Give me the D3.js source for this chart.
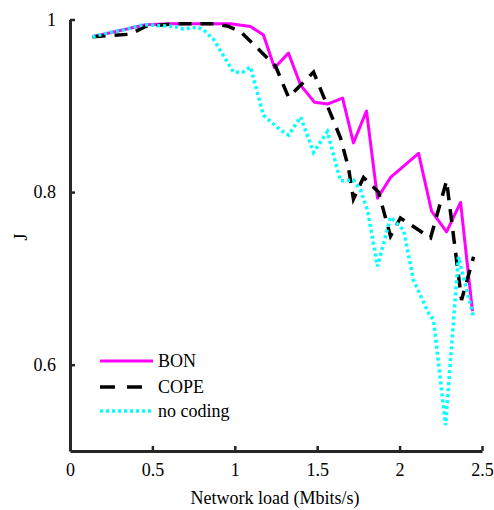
<!DOCTYPE html>
<html><head><meta charset="utf-8">
<script src="https://cdn.jsdelivr.net/npm/d3@7"></script>
</head><body style="margin:0;background:#fff">
<svg id="c" width="494" height="510"></svg>
<script>
// Data (x = network load in Mbits/s, y = J)
const bonX = [0.137,0.458,0.610,0.974,1.095,1.174,1.241,1.326,1.399,1.484,1.562,1.654,1.720,1.799,1.866,1.945,2.115,2.194,2.285,2.370,2.442];
const bonY = [0.980,0.994,0.995,0.995,0.992,0.982,0.944,0.961,0.924,0.904,0.902,0.909,0.857,0.894,0.793,0.817,0.845,0.778,0.754,0.788,0.662];
const copeX = [0.137,0.367,0.458,0.640,0.883,0.962,1.035,1.168,1.247,1.326,1.478,1.641,1.690,1.720,1.781,1.872,1.945,2.005,2.188,2.285,2.376,2.449];
const copeY = [0.980,0.983,0.992,0.995,0.995,0.992,0.986,0.961,0.946,0.910,0.939,0.863,0.828,0.792,0.817,0.800,0.749,0.770,0.747,0.813,0.675,0.725];
const ncX = [0.137,0.264,0.325,0.446,0.628,0.689,0.774,0.810,0.871,0.992,1.047,1.095,1.174,1.277,1.326,1.399,1.478,1.562,1.641,1.720,1.763,1.805,1.866,1.945,2.024,2.084,2.175,2.206,2.279,2.357,2.400,2.449];
const ncY = [0.980,0.986,0.988,0.994,0.992,0.989,0.991,0.988,0.977,0.939,0.939,0.945,0.889,0.872,0.866,0.887,0.846,0.870,0.813,0.814,0.802,0.779,0.714,0.771,0.756,0.698,0.660,0.652,0.530,0.725,0.692,0.655];
const seriesNames = ["BON","COPE","no coding"];
const xTicks = [0,0.5,1,1.5,2,2.5];
const xTickLabels = ["0","0.5","1","1.5","2","2.5"];
const yTicks = [0.6,0.8,1];
const yTickLabels = ["0.6","0.8","1"];

const FONT = "'Liberation Serif', serif";
const svg = d3.select("#c");
const x = d3.scaleLinear().domain([0,2.5]).range([70,482]);
const y = d3.scaleLinear().domain([0.5,1]).range([451,19.5]);
const axisColor = "#262626";

const line = d3.line().x(d=>x(d[0])).y(d=>y(d[1]));
const zip = (a,b)=>a.map((v,i)=>[v,b[i]]);

const styles = [
  {stroke:"#ff00ff", width:3, dash:null},
  {stroke:"#000000", width:3.5, dash:"13,9"},
  {stroke:"#00ffff", width:3.5, dash:"3,3"}
];
const data = [zip(bonX,bonY), zip(copeX,copeY), zip(ncX,ncY)];

data.forEach((d,i)=>{
  svg.append("path").datum(d).attr("d",line)
    .attr("fill","none").attr("stroke",styles[i].stroke)
    .attr("stroke-width",styles[i].width)
    .attr("stroke-linejoin", i===0?"round":"miter")
    .attr("stroke-dasharray",styles[i].dash);
});

function serif(sel){ return sel.style("font-family",FONT,"important").style("font-size","18px","important"); }

// axes
const xa = svg.append("g").attr("transform","translate(0,451)")
  .call(d3.axisBottom(x).tickValues(xTicks).tickFormat((d,i)=>xTickLabels[i]).tickSizeInner(-5).tickSizeOuter(0).tickPadding(12));
const ya = svg.append("g").attr("transform","translate(70,0)")
  .call(d3.axisLeft(y).tickValues(yTicks).tickFormat((d,i)=>yTickLabels[i]).tickSizeInner(-5).tickSizeOuter(0).tickPadding(14));
[xa,ya].forEach(g=>{
  g.attr("font-family",null).attr("font-size",null);
  g.select(".domain").attr("stroke",axisColor).attr("stroke-width",3);
  g.selectAll(".tick line").attr("stroke",axisColor).attr("stroke-width",2.5);
  serif(g.selectAll(".tick text").attr("fill","#000"));
});

serif(svg.append("text").attr("x",275).attr("y",504).attr("text-anchor","middle")).text("Network load (Mbits/s)");
serif(svg.append("text").attr("transform","translate(27,237) rotate(-90)").attr("text-anchor","middle")).text("J");

// legend
const lg = svg.append("g");
const ly = [361,387,411];
seriesNames.forEach((n,i)=>{
  lg.append("line").attr("x1",100).attr("x2",153).attr("y1",ly[i]).attr("y2",ly[i])
    .attr("stroke",styles[i].stroke).attr("stroke-width",styles[i].width)
    .attr("stroke-dasharray", i===1?"15,12":styles[i].dash);
  serif(lg.append("text").attr("x",158).attr("y",ly[i]+6)).text(n);
});
</script>
</body></html>
